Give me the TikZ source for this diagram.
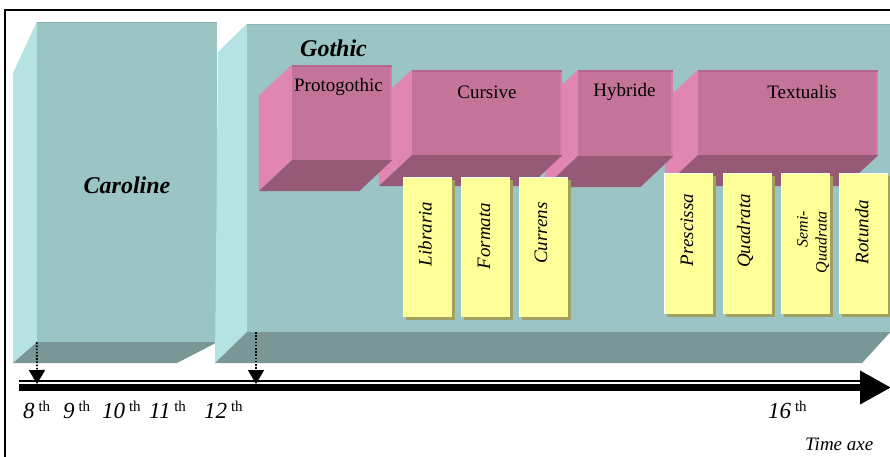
\documentclass[tikz,border=0pt]{standalone}
\usepackage{fontspec}
\setmainfont{Liberation Serif}
\usetikzlibrary{positioning, shadows, arrows.meta}

\definecolor{tealfront}{RGB}{155,196,196}
\definecolor{tealtop}{RGB}{140,182,182}
\definecolor{tealside}{RGB}{181,226,226}
\definecolor{tealbottom}{RGB}{121,151,150}
\definecolor{pinkfront}{RGB}{196,116,152}
\definecolor{pinktop}{RGB}{182,102,140}
\definecolor{pinkright}{RGB}{212,128,166}
\definecolor{pinkside}{RGB}{224,134,176}
\definecolor{pinkbottom}{RGB}{151,90,118}
\definecolor{cardyellow}{RGB}{255,255,153}
\definecolor{cardshadow}{RGB}{160,160,96}

\tikzstyle{tealface} = [rectangle, inner sep=0pt, fill=tealfront]
\tikzstyle{pinkface} = [rectangle, inner sep=0pt, fill=pinkfront]
\tikzstyle{card} = [rectangle, inner sep=0pt,
minimum width=49pt,
fill=cardyellow,
copy shadow={shadow xshift=3pt, shadow yshift=-3pt, fill=cardshadow, draw=none}]
\tikzstyle{cardtext} = [rotate=90, inner sep=0pt, font=\fontsize{19}{21}\selectfont\itshape]
\tikzstyle{boxtext} = [inner sep=0pt, font=\fontsize{19}{21}\selectfont]
\tikzstyle{familyname} = [inner sep=0pt, font=\fontsize{24}{26}\selectfont\bfseries\itshape]
\tikzstyle{century} = [anchor=base west, inner sep=0pt, font=\fontsize{23}{25}\selectfont\itshape]
\tikzstyle{arrow} = [line width=1.8pt, dash pattern=on 1.6pt off 1.6pt, -{Triangle[length=14pt 0 0,width=16pt 0 0]}]

% left and bottom faces of a pink block
\newcommand{\pinksides}[1]{%
  \fill[pinkside] (#1.north west) -- ([shift={(-33,31)}]#1.north west)
    -- ([shift={(-33,31)}]#1.south west) -- (#1.south west) -- cycle;
  \fill[pinkbottom] (#1.south west) -- ([shift={(-33,31)}]#1.south west)
    -- ([shift={(-33,31)}]#1.south east) -- (#1.south east) -- cycle;
  \draw[pinkright, line width=2pt] ([xshift=-1pt]#1.north east) -- ([xshift=-1pt]#1.south east);
  \draw[pinktop, line width=2pt] ([yshift=-1pt]#1.north west) -- ([yshift=-1pt]#1.north east);}
\newcommand{\centuryth}[1]{#1\,\raisebox{7pt}{\fontsize{15}{15}\selectfont\upshape th}}

\begin{document}
\begin{tikzpicture}[x=1pt, y=-1pt]
    \useasboundingbox (0,0) rectangle (890,457);
    \clip (0,0) rectangle (890,457);
    \fill[white] (0,0) rectangle (890,457);
    \draw[line width=1.5pt] (5,470) -- (5,10) -- (895,10);

    % Caroline block
    \node (caroline) [tealface, minimum width=180pt, minimum height=320pt] at (127,182) {};
    \fill[tealside] (caroline.north west) -- (13,73) -- (13,363) -- (caroline.south west) -- cycle;
    \fill[tealbottom] (caroline.south west) -- (13,363) -- (177,363) -- (caroline.south east) -- cycle;
    \draw[tealtop, line width=1.5pt] ([yshift=-0.75pt]caroline.north west) -- ([yshift=-0.75pt]caroline.north east);
    \node (carolinetext) [familyname, anchor=base] at (127,193) {Caroline};

    % Gothic block
    \node (gothic) [tealface, minimum width=643pt, minimum height=308pt] at (568.5,178) {};
    \fill[tealside] (gothic.north west) -- (218,52) -- (215,363) -- (gothic.south west) -- cycle;
    \fill[tealbottom] (gothic.south west) -- (215,363) -- (862,363) -- (gothic.south east) -- cycle;
    \draw[tealtop, line width=1.5pt] ([yshift=-0.75pt]gothic.north west) -- ([yshift=-0.75pt]gothic.north east);
    \node (gothictext) [familyname, anchor=base west] at (300,57) {Gothic};

    % pink blocks, right to left
    \node (textualis) [pinkface, minimum width=180pt, minimum height=85pt] at (788,112.5) {};
    \pinksides{textualis}
    \node (hybride) [pinkface, minimum width=95pt, minimum height=86pt] at (625.5,113) {};
    \pinksides{hybride}
    \node (cursive) [pinkface, minimum width=150pt, minimum height=85pt] at (487,112.5) {};
    \pinksides{cursive}
    \node (proto) [pinkface, minimum width=100pt, minimum height=95pt] at (342,112.5) {};
    \pinksides{proto}

    \node (prototext) [boxtext, anchor=base] at (338.5,92) {Protogothic};
    \node (cursivetext) [boxtext, anchor=base] at (487,99) {Cursive};
    \node (hybridetext) [boxtext, anchor=base] at (624.5,97) {Hybride};
    \node (textualistext) [boxtext, anchor=base] at (802,99) {Textualis};

    % cards
    \node (libraria) [card, minimum height=140pt] at (427.5,247) {};
    \node (formata) [card, minimum height=140pt] at (485.5,247) {};
    \node (currens) [card, minimum height=140pt] at (543.5,247) {};
    \node (prescissa) [card, minimum height=141pt] at (688.5,243.5) {};
    \node (quadrata) [card, minimum height=141pt] at (747.5,243.5) {};
    \node (semiquadrata) [card, minimum height=141pt] at (805.5,243.5) {};
    \node (rotunda) [card, minimum height=141pt] at (863.5,243.5) {};
    \foreach \c in {libraria,formata,currens,prescissa,quadrata,semiquadrata,rotunda}
        \draw[white, line width=1.2pt] ([xshift=0.6pt]\c.south west) -- ([xshift=0.6pt,yshift=-0.6pt]\c.north west) -- ([yshift=-0.6pt]\c.north east);

    \node (librariatext) [cardtext] at (425,234) {Libraria};
    \node (formatatext) [cardtext] at (484,236) {Formata};
    \node (currenstext) [cardtext] at (541,233) {Currens};
    \node (prescissatext) [cardtext] at (687,230) {Prescissa};
    \node (quadratatext) [cardtext] at (745,231) {Quadrata};
    \node (semiquadratatext) [cardtext, anchor=east, align=right, font=\fontsize{16}{19}\selectfont\itshape] at (813,211) {Semi-\\Quadrata};
    \node (rotundatext) [cardtext] at (862,232) {Rotunda};

    % time axe
    \coordinate (axestart) at (19,387.5);
    \coordinate (axeend) at (891,387.5);
    \draw[line width=1.2pt] (19,381) -- (862,381);
    \draw[line width=7pt, -{Triangle[length=31pt 0 0,width=32pt 0 0]}] (axestart) -- (axeend);

    \coordinate (start8) at (37,384);
    \coordinate (gothicfoot) at (256,332);
    \coordinate (start12) at (256,384);
    \draw [arrow] (caroline.south west) -- (start8);
    \draw [arrow] (gothicfoot) -- (start12);

    \node (c8) [century] at (23,418) {\centuryth{8}};
    \node (c9) [century] at (63,418) {\centuryth{9}};
    \node (c10) [century] at (102,418) {\centuryth{10}};
    \node (c11) [century] at (149,418) {\centuryth{11}};
    \node (c12) [century] at (204,418) {\centuryth{12}};
    \node (c16) [century] at (768,418) {\centuryth{16}};
    \node (timeaxe) [anchor=base west, inner sep=0pt, font=\fontsize{19}{21}\selectfont\itshape] at (805,450) {Time axe};
\end{tikzpicture}
\end{document}
